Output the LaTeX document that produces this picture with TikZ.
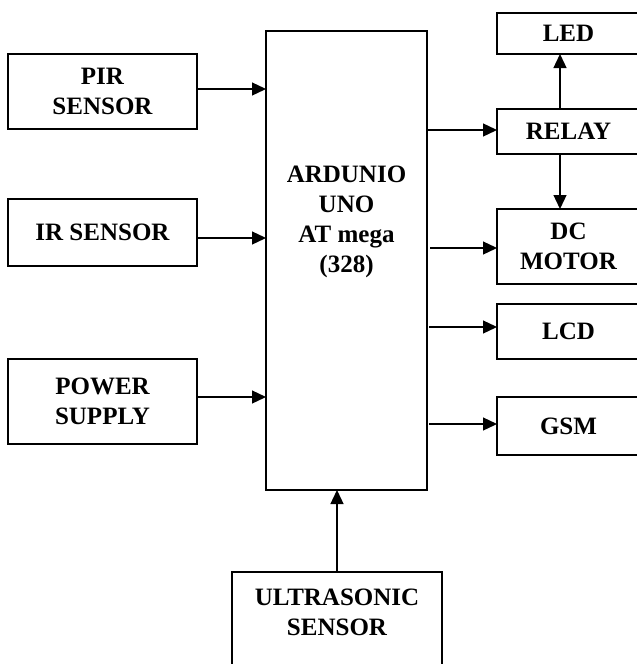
\documentclass[tikz,border=0pt]{standalone}
\usepackage{fontspec}
\setmainfont{Liberation Serif}
\usetikzlibrary{arrows.meta, positioning}

\begin{document}
\begin{tikzpicture}[
    x=1pt, y=-1pt,
    >={Triangle[length=14pt, width=13pt]}, node distance=70pt,
    lbl/.style={align=center, inner sep=0pt,
        font=\fontsize{25}{30}\selectfont\bfseries},
    blockbox/.style={lbl, draw, line width=1.3pt, outer sep=0pt},
    inbox/.style={blockbox, minimum width=189pt},
    outbox/.style={blockbox, minimum width=143pt},
    link/.style={->, line width=1.3pt}
  ]
  \useasboundingbox (0,0) rectangle (637,664);
  % inputs
  \node[inbox, minimum height=75pt] (pir) at (102.5,91.5) {PIR\\SENSOR};
  \node[inbox, minimum height=67pt, below=70pt of pir] (ir) {IR SENSOR};
  \node[inbox, minimum height=85pt, below=93pt of ir] (power) {POWER\\SUPPLY};
  % controller
  \node[blockbox, minimum width=161pt, minimum height=459pt] (ard) at (346.5,260.5) {};
  \node[lbl] (ardtxt) at (346.5,222) {ARDUNIO\\UNO\\AT mega\\(328)};
  % outputs
  \node[outbox, minimum height=41pt] (led) at (568.5,33.5) {LED};
  \node[outbox, minimum height=45pt, below=55pt of led] (relay) {RELAY};
  \node[outbox, minimum height=75pt, below=55pt of relay] (dc) {DC\\MOTOR};
  \node[outbox, minimum height=55pt, below=20pt of dc] (lcd) {LCD};
  \node[outbox, minimum height=58pt, below=38pt of lcd] (gsm) {GSM};
  \node[blockbox, minimum width=210pt, minimum height=110pt, anchor=north] (ultra) at (337,572) {};
  \node[lbl] (ultratxt) at (337,612) {ULTRASONIC\\SENSOR};

  \coordinate (pirout) at ([yshift=2.5pt]pir.east);
  \coordinate (irout) at ([yshift=-5.5pt]ir.east);
  \coordinate (powerout) at ([yshift=4.5pt]power.east);
  \draw[link] (pirout) -- (pirout -| ard.west);
  \draw[link] (irout) -- (irout -| ard.west);
  \draw[link] (powerout) -- (powerout -| ard.west);

  \coordinate (relayin) at ([yshift=1.5pt]relay.west);
  \coordinate (dcin) at ([yshift=-1.5pt]dc.west);
  \coordinate (lcdin) at ([yshift=4.5pt]lcd.west);
  \coordinate (gsmin) at ([yshift=2pt]gsm.west);
  \draw[link] (relayin -| ard.east) -- (relayin);
  \draw[link] ([xshift=3pt]dcin -| ard.east) -- (dcin);
  \draw[link] ([xshift=2pt]lcdin -| ard.east) -- (lcdin);
  \draw[link] ([xshift=2pt]gsmin -| ard.east) -- (gsmin);

  \coordinate (relaytop) at ([xshift=-8.5pt]relay.north);
  \coordinate (relaybot) at ([xshift=-8.5pt]relay.south);
  \draw[link] (relaytop) -- (relaytop |- led.south);
  \draw[link] (relaybot) -- (relaybot |- dc.north);
  \draw[link] (ultra.north) -- (ultra.north |- ard.south);
\end{tikzpicture}
\end{document}
